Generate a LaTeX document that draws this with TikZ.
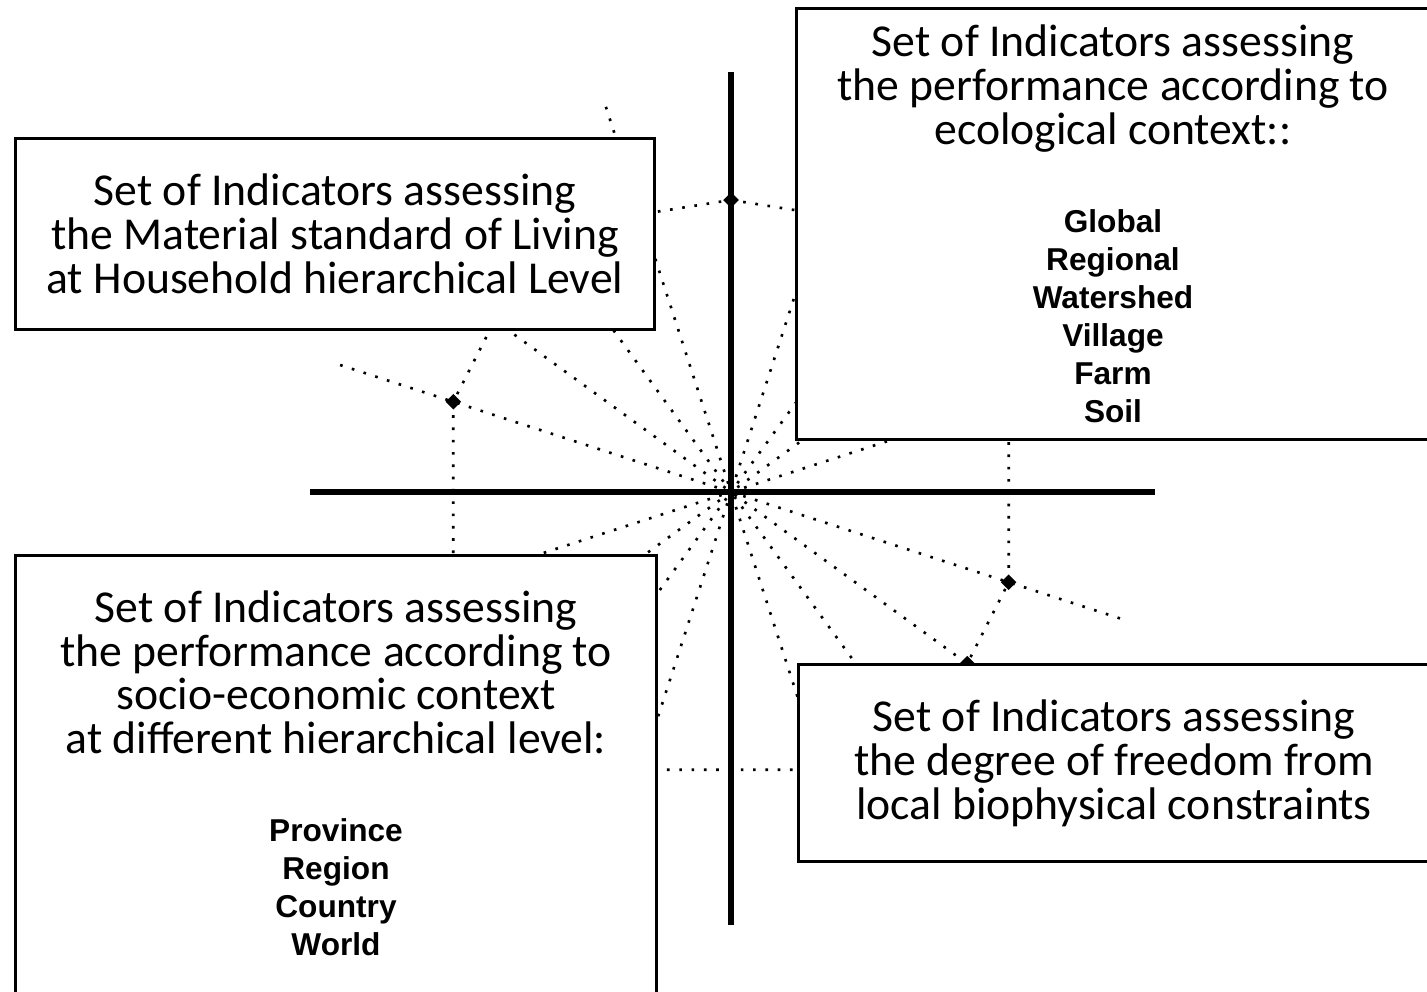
\documentclass[tikz,border=0pt]{standalone}
\usepackage{fontspec}
\setmainfont{Carlito}
\newfontfamily\listfont{Liberation Sans}
\usetikzlibrary{shapes.geometric, positioning}

\begin{document}
\begin{tikzpicture}[
  x=0.02cm, y=-0.02cm,
  font=\fontsize{26}{25}\selectfont,
  every node/.style={align=center},
  box/.style={rectangle, draw=black, line width=1.7pt, fill=white, inner sep=0pt},
  ray/.style={line width=1.5pt, dash pattern=on 1.5pt off 5.5pt, black},
  axis/.style={line width=3.4pt, black},
  dotmark/.style={diamond, fill=black, inner sep=0pt, minimum size=9pt}
]
\useasboundingbox (0,0) rectangle (1427,991);
\clip (0,0) rectangle (1427,991);

\coordinate (o) at (731,492);

% dotted spokes and profile
\begin{scope}[shift={(o)}, y=0.02cm]
  \foreach \a/\r in {18/410,36/404,54/407,72/412,108/405,126/409,144/403,162/411,
                     198/406,216/410,234/404,252/408,288/375,306/402,324/413,342/409}
    \draw[ray] (\a:\r) -- (o);
  \foreach \a [count=\i] in {90,72,54,36,18,342,324,306,288,252,234,216,198,162,144,126,108}
    \coordinate (v\i) at (\a:292);
\end{scope}
\draw[ray] (v1) \foreach \i in {2,...,17}{ -- (v\i) } -- cycle;
\foreach \i in {1,6,7,14}
  \node[dotmark] (m\i) at (v\i) {};

% axes
\coordinate (west) at (310,492);
\coordinate (east) at (1155,492);
\coordinate (north) at (731,72);
\coordinate (south) at (731,925);
\draw[axis] (west) -- (east);
\draw[axis] (north) -- (south);

% boxes
\node[box, minimum width=12.8cm, minimum height=3.84cm] (household) at (335,234)
  {Set of Indicators assessing\\the Material standard of Living\\at Household hierarchical Level};
\node[box, minimum width=12.66cm, minimum height=8.64cm] (ecological) at (1113,224)
  {Set of Indicators assessing\\the performance according to\\ecological context::\\[25pt]
   {\listfont\bfseries\fontsize{18}{21.6}\selectfont Global}\\[-3.4pt]
   {\listfont\bfseries\fontsize{18}{21.6}\selectfont Regional}\\[-3.4pt]
   {\listfont\bfseries\fontsize{18}{21.6}\selectfont Watershed}\\[-3.4pt]
   {\listfont\bfseries\fontsize{18}{21.6}\selectfont Village}\\[-3.4pt]
   {\listfont\bfseries\fontsize{18}{21.6}\selectfont Farm}\\[-3.4pt]
   {\listfont\bfseries\fontsize{18}{21.6}\selectfont Soil}};
\node[box, minimum width=12.84cm, minimum height=9.2cm] (socio) at (336,785)
  {Set of Indicators assessing\\the performance according to\\socio-economic context\\at different hierarchical level:\\[25pt]
   {\listfont\bfseries\fontsize{18}{21.6}\selectfont Province}\\[-3.4pt]
   {\listfont\bfseries\fontsize{18}{21.6}\selectfont Region}\\[-3.4pt]
   {\listfont\bfseries\fontsize{18}{21.6}\selectfont Country}\\[-3.4pt]
   {\listfont\bfseries\fontsize{18}{21.6}\selectfont World}\\[-11.3pt]\mbox{}};
\node[box, minimum width=12.64cm, minimum height=3.94cm] (freedom) at (1114,763)
  {Set of Indicators assessing\\the degree of freedom from\\local biophysical constraints};
\end{tikzpicture}
\end{document}
